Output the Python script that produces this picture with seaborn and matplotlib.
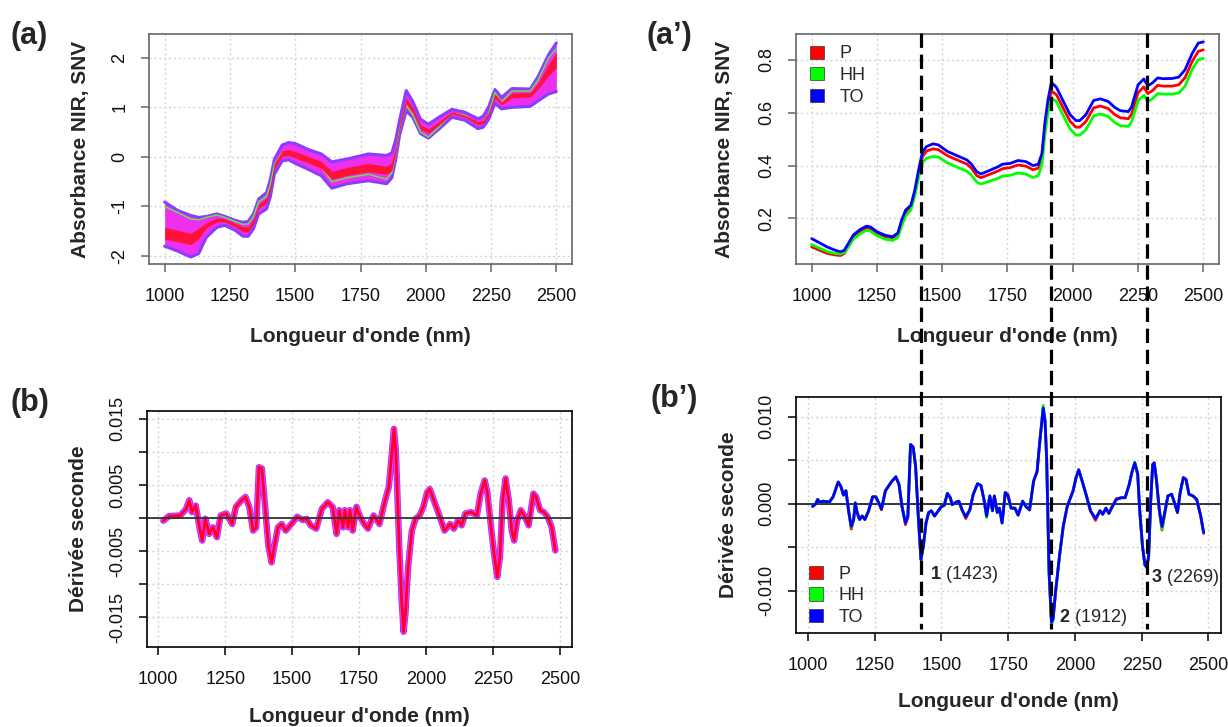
import matplotlib
matplotlib.use("Agg")
import matplotlib.pyplot as plt
import matplotlib.transforms as mtransforms
from matplotlib.patches import Patch
from matplotlib.lines import Line2D
import pandas as pd
import seaborn as sns

sns.set_theme(style="white")
plt.rcParams["font.family"] = ["Liberation Sans", "DejaVu Sans"]
plt.rcParams["mathtext.fontset"] = "custom"
plt.rcParams["mathtext.rm"] = "Liberation Sans"
plt.rcParams["mathtext.bf"] = "Liberation Sans:bold"

# ---------------------------------------------------------------- data
# (a) SNV spectra bundle: outer envelope, dense red core, one green sample
wl_snv = [1000, 1050, 1100, 1130, 1160, 1200, 1230, 1270, 1300, 1320, 1340, 1360,
          1390, 1405, 1420, 1450, 1475, 1500, 1550, 1600, 1640, 1700, 1780, 1850,
          1870, 1885, 1900, 1925, 1950, 1980, 2010, 2050, 2100, 2150, 2200, 2220,
          2240, 2265, 2290, 2330, 2400, 2430, 2470, 2500]
snv_upper = [-0.91, -1.08, -1.18, -1.22, -1.20, -1.15, -1.20, -1.28, -1.32, -1.30, -1.15, -0.85,
             -0.72, -0.45, -0.05, 0.24, 0.29, 0.27, 0.15, 0.06, -0.10, -0.04, 0.06, 0.03,
             0.08, 0.35, 0.75, 1.34, 1.12, 0.76, 0.66, 0.80, 0.96, 0.90, 0.77, 0.82,
             1.00, 1.36, 1.20, 1.38, 1.37, 1.62, 2.06, 2.30]
snv_lower = [-1.80, -1.90, -2.02, -1.95, -1.62, -1.42, -1.38, -1.48, -1.60, -1.60, -1.45, -1.15,
             -1.05, -0.80, -0.35, -0.08, -0.06, -0.13, -0.25, -0.38, -0.63, -0.54, -0.48, -0.54,
             -0.42, -0.05, 0.45, 0.93, 0.80, 0.47, 0.38, 0.56, 0.80, 0.74, 0.57, 0.60,
             0.75, 1.08, 0.97, 1.00, 1.02, 1.13, 1.27, 1.32]
snv_core_hi = [-1.42, -1.48, -1.54, -1.44, -1.33, -1.23, -1.25, -1.34, -1.41, -1.41, -1.26, -0.96,
               -0.83, -0.56, -0.13, 0.12, 0.15, 0.11, 0.01, -0.09, -0.29, -0.21, -0.13, -0.19,
               -0.11, 0.19, 0.64, 1.19, 1.00, 0.65, 0.56, 0.71, 0.91, 0.84, 0.71, 0.74,
               0.89, 1.27, 1.11, 1.29, 1.30, 1.49, 1.86, 2.10]
snv_core_lo = [-1.66, -1.71, -1.77, -1.65, -1.43, -1.31, -1.31, -1.41, -1.51, -1.51, -1.35, -1.04,
               -0.93, -0.67, -0.23, 0.01, 0.03, -0.02, -0.12, -0.23, -0.45, -0.37, -0.30, -0.35,
               -0.27, 0.07, 0.55, 1.07, 0.90, 0.56, 0.48, 0.64, 0.87, 0.80, 0.65, 0.68,
               0.83, 1.19, 1.05, 1.19, 1.21, 1.37, 1.64, 1.80]
snv_green = [-1.00, -1.12, -1.25, -1.27, -1.22, -1.17, -1.22, -1.30, -1.36, -1.35, -1.20, -0.90,
             -0.80, -0.55, -0.15, 0.08, 0.10, 0.05, -0.08, -0.20, -0.50, -0.42, -0.35, -0.45,
             -0.32, 0.05, 0.55, 1.05, 0.85, 0.50, 0.40, 0.60, 0.88, 0.84, 0.66, 0.70,
             0.85, 1.30, 1.10, 1.33, 1.33, 1.55, 2.00, 2.18]

# (a') mean SNV spectra per group
wl_mean = [1000, 1030, 1060, 1090, 1110, 1125, 1140, 1160, 1185, 1210, 1225, 1250,
           1280, 1310, 1330, 1345, 1360, 1380, 1395, 1412, 1425, 1440, 1465, 1485,
           1520, 1560, 1595, 1612, 1632, 1648, 1685, 1715, 1730, 1760, 1790, 1820,
           1848, 1868, 1882, 1893, 1905, 1918, 1937, 1967, 1990, 2012, 2027, 2050,
           2080, 2106, 2136, 2160, 2183, 2213, 2225, 2250, 2272, 2287, 2305, 2325,
           2347, 2380, 2406, 2430, 2458, 2481, 2500]
mean_TO = [0.124, 0.108, 0.092, 0.080, 0.074, 0.080, 0.105, 0.138, 0.158, 0.171, 0.168, 0.150,
           0.137, 0.131, 0.145, 0.195, 0.232, 0.250, 0.307, 0.396, 0.453, 0.472, 0.482, 0.478,
           0.453, 0.436, 0.421, 0.405, 0.377, 0.368, 0.383, 0.396, 0.405, 0.408, 0.419, 0.415,
           0.400, 0.405, 0.446, 0.560, 0.648, 0.714, 0.696, 0.636, 0.592, 0.570, 0.570, 0.592,
           0.646, 0.652, 0.642, 0.620, 0.607, 0.604, 0.621, 0.705, 0.727, 0.701, 0.712, 0.731,
           0.728, 0.729, 0.734, 0.762, 0.825, 0.863, 0.867]
mean_P = [0.093, 0.080, 0.068, 0.062, 0.060, 0.068, 0.095, 0.130, 0.152, 0.165, 0.162, 0.145,
          0.132, 0.127, 0.140, 0.188, 0.225, 0.243, 0.298, 0.385, 0.435, 0.455, 0.463, 0.460,
          0.437, 0.420, 0.405, 0.390, 0.362, 0.354, 0.368, 0.380, 0.388, 0.392, 0.402, 0.398,
          0.384, 0.390, 0.430, 0.540, 0.625, 0.682, 0.668, 0.610, 0.567, 0.545, 0.545, 0.566,
          0.618, 0.625, 0.615, 0.593, 0.580, 0.577, 0.594, 0.675, 0.697, 0.672, 0.683, 0.703,
          0.700, 0.700, 0.705, 0.732, 0.795, 0.832, 0.837]
mean_HH = [0.101, 0.088, 0.075, 0.068, 0.066, 0.072, 0.092, 0.122, 0.142, 0.155, 0.152, 0.135,
           0.122, 0.117, 0.128, 0.172, 0.210, 0.232, 0.285, 0.365, 0.412, 0.428, 0.434, 0.432,
           0.410, 0.393, 0.378, 0.363, 0.338, 0.330, 0.342, 0.352, 0.360, 0.363, 0.372, 0.368,
           0.355, 0.362, 0.405, 0.515, 0.600, 0.655, 0.642, 0.582, 0.538, 0.515, 0.515, 0.535,
           0.588, 0.595, 0.585, 0.563, 0.550, 0.548, 0.565, 0.645, 0.665, 0.642, 0.652, 0.672,
           0.670, 0.670, 0.674, 0.700, 0.765, 0.800, 0.805]

# (b) second derivative of the spectra bundle (central trace)
wl_d2 = [1019, 1040, 1083, 1104, 1116, 1126, 1140, 1154, 1164, 1176,
         1190, 1204, 1219, 1233, 1254, 1276, 1290, 1311, 1326, 1340,
         1354, 1366, 1376, 1387, 1397, 1411, 1423, 1433, 1447, 1461,
         1476, 1497, 1519, 1540, 1554, 1569, 1590, 1611, 1633, 1651,
         1666, 1676, 1690, 1697, 1709, 1716, 1726, 1740, 1754, 1769,
         1783, 1804, 1826, 1847, 1861, 1871, 1880, 1887, 1893, 1900,
         1909, 1916, 1923, 1933, 1947, 1961, 1976, 1990, 2004, 2014,
         2029, 2047, 2069, 2090, 2104, 2119, 2133, 2147, 2169, 2190,
         2204, 2219, 2229, 2240, 2254, 2266, 2276, 2286, 2297, 2309,
         2320, 2329, 2340, 2354, 2369, 2383, 2401, 2411, 2426, 2440,
         2454, 2469, 2483]
d2_core = [-0.0004, 0.0003, 0.0004, 0.0014, 0.0027, 0.0009, 0.0019, -0.0014, -0.0034, -0.0001,
           -0.0024, -0.0014, -0.0029, 0.0004, 0.0007, -0.0009, 0.0017, 0.0027, 0.0032, 0.0017,
           -0.0019, -0.0014, 0.0077, 0.0075, 0.0027, -0.0041, -0.0067, -0.0044, -0.0014, -0.0009,
           -0.0019, -0.0009, 0.0002, -0.0003, -0.0001, -0.0011, -0.0016, 0.0014, 0.0024, 0.0017,
           -0.0024, 0.0012, -0.0014, 0.0012, -0.0014, 0.0012, -0.0019, 0.0017, 0.0002, -0.0009,
           -0.0016, 0.0004, -0.0009, 0.0027, 0.0047, 0.0092, 0.0135, 0.0103, 0.0037, -0.0044,
           -0.0125, -0.0172, -0.0145, -0.0074, -0.0019, -0.0001, 0.0004, 0.0017, 0.0039, 0.0044,
           0.0027, 0.0007, -0.0019, -0.0009, -0.0016, -0.0004, -0.0011, 0.0007, 0.0009, 0.0004,
           0.0037, 0.0057, 0.0039, -0.0004, -0.0054, -0.0089, -0.0059, 0.0027, 0.0060, 0.0027,
           -0.0019, -0.0034, -0.0004, 0.0012, 0.0002, -0.0011, 0.0037, 0.0032, 0.0012, 0.0009,
           0.0002, -0.0014, -0.0049]

# (b') mean second derivative per group
wl_d2m = [1017, 1029, 1036, 1043, 1058, 1080, 1094, 1113, 1123, 1133,
          1142, 1152, 1162, 1171, 1177, 1184, 1193, 1203, 1213, 1227,
          1242, 1254, 1265, 1275, 1290, 1312, 1329, 1341, 1352, 1365,
          1374, 1384, 1394, 1403, 1413, 1423, 1432, 1442, 1452, 1462,
          1474, 1500, 1510, 1522, 1533, 1540, 1555, 1565, 1577, 1591,
          1606, 1619, 1635, 1648, 1659, 1669, 1681, 1691, 1698, 1709,
          1717, 1727, 1739, 1749, 1761, 1775, 1787, 1804, 1816, 1830,
          1845, 1858, 1869, 1881, 1888, 1894, 1898, 1903, 1912, 1918,
          1927, 1942, 1956, 1971, 1982, 1993, 2004, 2014, 2029, 2043,
          2058, 2077, 2094, 2104, 2116, 2127, 2137, 2155, 2174, 2188,
          2203, 2213, 2224, 2235, 2243, 2253, 2262, 2269, 2276, 2284,
          2291, 2297, 2305, 2316, 2326, 2336, 2348, 2362, 2373, 2384,
          2394, 2406, 2416, 2427, 2442, 2456, 2471, 2482]
d2_TO = [-0.0003, 0.0000, 0.0005, 0.0002, 0.0003, 0.0002, 0.0008, 0.0025, 0.0020, 0.0010,
         0.0015, -0.0008, -0.0026, -0.0018, 0.0001, -0.0010, -0.0018, -0.0014, -0.0018, -0.0008,
         0.0008, 0.0008, 0.0001, -0.0006, 0.0015, 0.0025, 0.0031, 0.0022, -0.0003, -0.0022,
         -0.0014, 0.0068, 0.0065, 0.0043, -0.0014, -0.0064, -0.0049, -0.0022, -0.0010, -0.0008,
         -0.0014, -0.0003, -0.0002, 0.0012, 0.0007, -0.0001, 0.0002, 0.0003, -0.0007, -0.0015,
         -0.0007, 0.0011, 0.0023, 0.0021, 0.0005, -0.0014, 0.0009, -0.0008, 0.0009, -0.0010,
         -0.0005, -0.0022, 0.0013, 0.0009, -0.0005, -0.0005, -0.0013, 0.0003, -0.0003, -0.0007,
         0.0026, 0.0037, 0.0074, 0.0110, 0.0095, 0.0051, -0.0007, -0.0079, -0.0136, -0.0132,
         -0.0102, -0.0060, -0.0026, -0.0003, 0.0006, 0.0015, 0.0030, 0.0039, 0.0024, 0.0009,
         -0.0008, -0.0017, -0.0008, -0.0012, -0.0005, -0.0011, -0.0005, 0.0005, 0.0007, 0.0007,
         0.0022, 0.0036, 0.0047, 0.0034, -0.0010, -0.0049, -0.0070, -0.0073, -0.0060, 0.0005,
         0.0045, 0.0047, 0.0028, -0.0007, -0.0026, -0.0010, 0.0009, 0.0011, 0.0001, -0.0010,
         0.0013, 0.0030, 0.0028, 0.0011, 0.0009, 0.0005, -0.0014, -0.0033]
d2_P = [-0.0003, 0.0000, 0.0005, 0.0002, 0.0003, 0.0002, 0.0008, 0.0025, 0.0020, 0.0010,
        0.0015, -0.0008, -0.0029, -0.0018, 0.0001, -0.0010, -0.0018, -0.0014, -0.0018, -0.0008,
        0.0008, 0.0008, 0.0001, -0.0007, 0.0015, 0.0025, 0.0031, 0.0022, -0.0003, -0.0024,
        -0.0016, 0.0068, 0.0065, 0.0043, -0.0014, -0.0064, -0.0049, -0.0022, -0.0010, -0.0008,
        -0.0014, -0.0003, -0.0002, 0.0012, 0.0007, -0.0001, 0.0002, 0.0003, -0.0007, -0.0017,
        -0.0007, 0.0011, 0.0023, 0.0021, 0.0005, -0.0014, 0.0009, -0.0008, 0.0009, -0.0010,
        -0.0005, -0.0022, 0.0013, 0.0011, -0.0005, -0.0005, -0.0013, 0.0003, -0.0003, -0.0007,
        0.0026, 0.0037, 0.0074, 0.0108, 0.0093, 0.0051, -0.0007, -0.0079, -0.0137, -0.0132,
        -0.0102, -0.0060, -0.0026, -0.0003, 0.0006, 0.0015, 0.0030, 0.0039, 0.0024, 0.0009,
        -0.0008, -0.0019, -0.0008, -0.0012, -0.0005, -0.0011, -0.0004, 0.0006, 0.0007, 0.0007,
        0.0022, 0.0036, 0.0047, 0.0034, -0.0010, -0.0049, -0.0070, -0.0073, -0.0060, 0.0005,
        0.0045, 0.0047, 0.0028, -0.0009, -0.0030, -0.0012, 0.0009, 0.0011, 0.0001, -0.0010,
        0.0013, 0.0030, 0.0028, 0.0011, 0.0009, 0.0005, -0.0014, -0.0034]
d2_HH = [-0.0003, 0.0000, 0.0005, 0.0002, 0.0003, 0.0002, 0.0008, 0.0025, 0.0020, 0.0010,
         0.0015, -0.0008, -0.0027, -0.0018, 0.0001, -0.0010, -0.0018, -0.0014, -0.0018, -0.0008,
         0.0008, 0.0008, 0.0001, -0.0006, 0.0015, 0.0025, 0.0031, 0.0022, -0.0003, -0.0022,
         -0.0014, 0.0068, 0.0065, 0.0043, -0.0014, -0.0064, -0.0049, -0.0022, -0.0010, -0.0008,
         -0.0014, -0.0003, -0.0002, 0.0012, 0.0007, -0.0001, 0.0002, 0.0003, -0.0007, -0.0015,
         -0.0007, 0.0011, 0.0023, 0.0021, 0.0005, -0.0016, 0.0009, -0.0008, 0.0009, -0.0010,
         -0.0005, -0.0022, 0.0013, 0.0009, -0.0005, -0.0005, -0.0013, 0.0003, -0.0003, -0.0007,
         0.0026, 0.0037, 0.0074, 0.0113, 0.0095, 0.0051, -0.0007, -0.0079, -0.0139, -0.0133,
         -0.0102, -0.0060, -0.0026, -0.0003, 0.0006, 0.0015, 0.0030, 0.0039, 0.0024, 0.0009,
         -0.0008, -0.0017, -0.0008, -0.0012, -0.0005, -0.0011, -0.0005, 0.0005, 0.0007, 0.0007,
         0.0022, 0.0036, 0.0048, 0.0034, -0.0010, -0.0049, -0.0070, -0.0073, -0.0060, 0.0005,
         0.0045, 0.0047, 0.0028, -0.0008, -0.0029, -0.0012, 0.0009, 0.0011, 0.0001, -0.0010,
         0.0013, 0.0030, 0.0028, 0.0011, 0.0009, 0.0005, -0.0014, -0.0033]

groups = ["P", "HH", "TO"]
group_colors = {"P": "#ff0000", "HH": "#00ff00", "TO": "#0000ff"}
bands = [1423, 1912, 2269]
wl_ticks = [1000, 1250, 1500, 1750, 2000, 2250, 2500]

mean_df = pd.concat([
    pd.DataFrame({"wl": wl_mean, "absorbance": vals, "group": g})
    for g, vals in zip(groups, [mean_P, mean_HH, mean_TO])
])
d2m_df = pd.concat([
    pd.DataFrame({"wl": wl_d2m, "d2": vals, "group": g})
    for g, vals in zip(groups, [d2_P, d2_HH, d2_TO])
])

# ---------------------------------------------------------------- figure
W, H = 1228, 727
fig = plt.figure(figsize=(W / 100, H / 100), dpi=100)


def px_axes(x0, y0, x1, y1):
    return fig.add_axes([x0 / W, 1 - y1 / H, (x1 - x0) / W, (y1 - y0) / H])


ax_a = px_axes(149, 34, 572, 264)
ax_ap = px_axes(796, 34, 1219, 264)
ax_b = px_axes(147, 411, 572, 647)
ax_bp = px_axes(796, 397, 1221, 633)


def style(ax, xlim, ylim, yticks, ylabels, edge, ylabel, ylab_x, xlab_y):
    ax.set_xlim(*xlim)
    ax.set_ylim(*ylim)
    ax.set_xticks(wl_ticks)
    ax.set_xticklabels([str(t) for t in wl_ticks])
    ax.set_yticks(yticks)
    ax.set_yticklabels(ylabels, rotation=90, va="center")
    ax.grid(True, color="#d3d3d3", linestyle=(0, (1.5, 2.0)), linewidth=1.0)
    ax.set_axisbelow(True)
    for s in ax.spines.values():
        s.set_color(edge)
        s.set_linewidth(1.2)
    ax.tick_params(axis="both", which="major", bottom=True, left=True,
                   direction="out", length=6, width=1.1, color=edge,
                   labelsize=13, labelcolor="#111111")
    ax.tick_params(axis="x", pad=11)
    ax.tick_params(axis="y", pad=9)
    ax.set_xlabel("Longueur d'onde (nm)", fontsize=15, fontweight="bold")
    ax.set_ylabel(ylabel, fontsize=15, fontweight="bold")
    ax.yaxis.set_label_coords(ylab_x, 0.5)
    ax.yaxis.label.set_va("center")
    ax.xaxis.set_label_coords(0.5, xlab_y)
    ax.xaxis.label.set_va("center")


# (a) SNV spectra
ax_a.fill_between(wl_snv, snv_lower, snv_upper, color="#ee30ee", lw=0, zorder=2)
for env in (snv_upper, snv_lower):
    sns.lineplot(x=wl_snv, y=env, color="#8a3cff", lw=2.2, ax=ax_a, zorder=3)
sns.lineplot(x=wl_snv, y=snv_green, color="#5cf03c", lw=1.0, ax=ax_a, zorder=3)
ax_a.fill_between(wl_snv, snv_core_lo, snv_core_hi, color="#ff1238", lw=0, zorder=4)
style(ax_a, (940, 2560), (-2.16, 2.48), [-2, -1, 0, 1, 2],
      ["-2", "-1", "0", "1", "2"], "#666666", "Absorbance NIR, SNV", -0.161, -0.317)

# (a') group means
sns.lineplot(data=mean_df, x="wl", y="absorbance", hue="group", hue_order=groups,
             palette=group_colors, lw=2.0, legend=False, ax=ax_ap, zorder=3)
style(ax_ap, (940, 2560), (0.028, 0.897), [0.2, 0.4, 0.6, 0.8],
      ["0.2", "0.4", "0.6", "0.8"], "#666666", "Absorbance NIR, SNV", -0.168, -0.317)

# (b) second derivative bundle
for lw, col in ((4.6, "#8a3cff"), (3.5, "#ff30ff"), (2.0, "#ff0022")):
    sns.lineplot(x=wl_d2, y=d2_core, color=col, lw=lw, ax=ax_b, zorder=3)
ax_b.axhline(0, color="#333333", lw=1.3, zorder=5)
style(ax_b, (958, 2545), (-0.0195, 0.0162),
      [-0.015, -0.010, -0.005, 0.0, 0.005, 0.010, 0.015],
      ["-0.015", "", "-0.005", "", "0.005", "", "0.015"],
      "#000000", "Dérivée seconde", -0.160, -0.294)

# (b') group mean second derivatives
sns.lineplot(data=d2m_df, x="wl", y="d2", hue="group", hue_order=groups,
             palette=group_colors, lw=2.0, legend=False, ax=ax_bp, zorder=3)
ax_bp.axhline(0, color="#000000", lw=1.1, zorder=2.5)
style(ax_bp, (955, 2547), (-0.01483, 0.01226),
      [-0.010, -0.005, 0.0, 0.005, 0.010],
      ["-0.010", "", "0.000", "", "0.010"],
      "#000000", "Dérivée seconde", -0.159, -0.290)

# legends with filled squares
handles = [Patch(facecolor=group_colors[g], edgecolor="#333333", linewidth=0.5, label=g)
           for g in groups]
for ax, anchor in ((ax_ap, (0.033, 0.95)), (ax_bp, (0.031, 0.285))):
    ax.legend(handles=handles, loc="upper left", bbox_to_anchor=anchor,
              frameon=False, fontsize=13, handlelength=0.75, handleheight=0.75,
              handletextpad=0.9, labelspacing=0.25, borderpad=0, borderaxespad=0)

# band annotations on (b')
band_labels = [(1456, -0.00814, r"$\mathbf{1}$ (1423)"),
               (1939, -0.01307, r"$\mathbf{2}$ (1912)"),
               (2283, -0.00848, r"$\mathbf{3}$ (2269)")]
for x, y, txt in band_labels:
    ax_bp.text(x, y, txt, fontsize=13, ha="left", va="center", zorder=6)

# dashed guides through both right-hand panels
trans = mtransforms.blended_transform_factory(ax_bp.transData, fig.transFigure)
for b in bands:
    fig.add_artist(Line2D([b, b], [1 - 33 / H, 1 - 629 / H], transform=trans,
                          color="black", lw=2.3, linestyle=(0, (4.5, 2.1)), zorder=10))

# panel letters
for x, y, lab in ((11, 36, "(a)"), (646, 36, "(a\u2019)"),
                  (11, 403, "(b)"), (650, 399, "(b\u2019)")):
    fig.text(x / W, 1 - y / H, lab, fontsize=22, fontweight="bold",
             ha="left", va="center")

fig.savefig("out.png", dpi=100)
